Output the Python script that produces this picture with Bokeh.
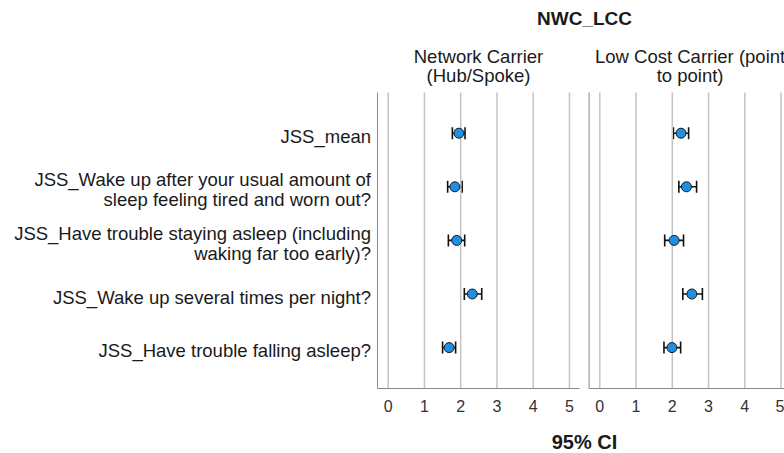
from bokeh.plotting import figure
from bokeh.layouts import column
from bokeh.models import (Range1d, FixedTicker, Label, Whisker,
                          ColumnDataSource, TeeHead)
from bokeh.core.properties import value
from bokeh.embed import file_html
from bokeh.resources import INLINE

# --- data -------------------------------------------------------------
categories = [
    "JSS_mean",
    "JSS_Wake up after your usual amount of\nsleep feeling tired and worn out?",
    "JSS_Have trouble staying asleep (including\nwaking far too early)?",
    "JSS_Wake up several times per night?",
    "JSS_Have trouble falling asleep?",
]
panel_titles = ["Network Carrier\n(Hub/Spoke)", "Low Cost Carrier (point\nto point)"]
main_title = "NWC_LCC"
x_title = "95% CI"
x_ticks = [0, 1, 2, 3, 4, 5]

nwc_mean = [1.95, 1.84, 1.89, 2.32, 1.68]
nwc_lo = [1.77, 1.64, 1.66, 2.10, 1.50]
nwc_hi = [2.12, 2.04, 2.11, 2.58, 1.86]

lcc_mean = [2.24, 2.39, 2.05, 2.54, 1.99]
lcc_lo = [2.03, 2.18, 1.79, 2.29, 1.77]
lcc_hi = [2.45, 2.67, 2.31, 2.83, 2.23]

# --- layout -----------------------------------------------------------
W, H = 784, 453
MAIN_H = 419                 # chart body; the axis title strip sits below
FRAME_BOTTOM = 389           # x tick labels sit below this
PX_PER_UNIT = 36.25          # horizontal pixels per scale unit
ZERO_PX = 387.7              # pixel of value 0 in the first panel
ROW_PX = 53.6                # vertical pixels per category row
PANEL_TOP_PX, PANEL_BASE_PX = 92, 388
FIRST_ROW_PX = 132.7
CENTRE_PX = 584              # horizontal centre of the two panels
X_TITLE_PX = 441.7           # vertical centre of the axis title


def x_at(px):
    return (px - ZERO_PX) / PX_PER_UNIT


def y_at(px):
    return (px - FIRST_ROW_PX) / ROW_PX


PANEL_LO = x_at(377)
PANEL_HI = x_at(579)
PANEL_SHIFT = x_at(599.3)    # origin of the second panel
Y_TOP, Y_BASE = y_at(PANEL_TOP_PX), y_at(PANEL_BASE_PX)

FONT = "Liberation Sans"
TEXT = "#1a1a1a"
AXIS_GREY = "#8a8a8a"
GRID_GREY = "#c4c4c4"
MARKER_BLUE = "#1e8fe1"

p = figure(width=W, height=MAIN_H,
           x_range=Range1d(x_at(0), x_at(W)),
           y_range=Range1d(y_at(FRAME_BOTTOM), y_at(0)),
           y_axis_location=None, min_border=0,
           min_border_bottom=MAIN_H - FRAME_BOTTOM,
           output_backend="svg", toolbar_location=None)
p.extra_x_ranges = {"lcc": Range1d(x_at(0) - PANEL_SHIFT, x_at(W) - PANEL_SHIFT)}
p.outline_line_color = None
p.xgrid.visible = False
p.ygrid.visible = False

# x axis: one tick set per panel
tick_pos = list(x_ticks) + [t + PANEL_SHIFT for t in x_ticks]
xaxis = p.xaxis[0]
xaxis.ticker = FixedTicker(ticks=tick_pos)
xaxis.major_label_overrides = {pos: str(t) for pos, t in
                               zip(tick_pos, x_ticks + x_ticks)}
xaxis.axis_line_color = None
xaxis.major_tick_line_color = None
xaxis.minor_tick_line_color = None
xaxis.major_label_standoff = 4
xaxis.major_label_text_font = FONT
xaxis.major_label_text_font_size = "16px"
xaxis.major_label_text_color = "#333333"

# vertical grid lines inside each panel
grid_x = tick_pos
p.segment(x0=grid_x, y0=[Y_TOP] * len(grid_x), x1=grid_x,
          y1=[Y_BASE] * len(grid_x), line_color=GRID_GREY, line_width=1.5)

# panel frames: left edges and base lines
lefts = [PANEL_LO, PANEL_LO + PANEL_SHIFT]
rights = [PANEL_HI, PANEL_HI + PANEL_SHIFT]
p.segment(x0=lefts, y0=[Y_TOP] * 2, x1=lefts, y1=[Y_BASE] * 2,
          line_color=AXIS_GREY, line_width=1)
p.segment(x0=lefts, y0=[Y_BASE] * 2, x1=rights, y1=[Y_BASE] * 2,
          line_color=AXIS_GREY, line_width=1)

rows = list(range(len(categories)))

# category labels, right aligned against the first panel
p.text(x=[x_at(370.5)] * len(rows), y=rows, text=categories,
       text_align="right", text_baseline="middle", y_offset=3,
       text_font=value(FONT), text_font_size="18.5px",
       text_line_height=0.95, text_color=TEXT)

for name, mean, lo, hi in (("default", nwc_mean, nwc_lo, nwc_hi),
                           ("lcc", lcc_mean, lcc_lo, lcc_hi)):
    src = ColumnDataSource(dict(row=rows, mean=mean, lo=lo, hi=hi))
    w = Whisker(base="row", lower="lo", upper="hi", dimension="width",
                source=src, line_color="#111111", line_width=1.6,
                upper_head=TeeHead(size=12, line_color="#111111", line_width=1.6),
                lower_head=TeeHead(size=12, line_color="#111111", line_width=1.6),
                level="underlay")
    if name != "default":
        w.x_range_name = name
    p.add_layout(w)
    p.scatter("mean", "row", source=src, marker="circle", size=10,
              fill_color=MARKER_BLUE, line_color="#1a1a1a", line_width=1,
              x_range_name=name)

# titles above the panels
label_style = dict(text_align="center", text_baseline="middle",
                   text_font=FONT, text_color=TEXT)
p.add_layout(Label(x=x_at(CENTRE_PX), y=y_at(18), text=main_title,
                   text_font_size="19px", text_font_style="bold", **label_style))
centre = (PANEL_LO + PANEL_HI) / 2
for i, t in enumerate(panel_titles):
    p.add_layout(Label(x=centre + i * PANEL_SHIFT, y=y_at(65.5), text=t,
                       text_font_size="18.5px", text_line_height=0.95,
                       **label_style))

# strip below the chart holding the shared axis title
strip_h = H - MAIN_H
strip = figure(width=W, height=strip_h,
               x_range=Range1d(x_at(0), x_at(W)),
               y_range=Range1d(strip_h, 0),
               x_axis_location=None, y_axis_location=None, min_border=0,
               output_backend="svg", toolbar_location=None)
strip.outline_line_color = None
strip.xgrid.visible = False
strip.ygrid.visible = False
strip.add_layout(Label(x=x_at(CENTRE_PX), y=X_TITLE_PX - MAIN_H, text=x_title,
                       text_font_size="20px", text_font_style="bold",
                       **label_style))

layout = column(p, strip, spacing=0)
open("out.html", "w").write(file_html(layout, INLINE))
